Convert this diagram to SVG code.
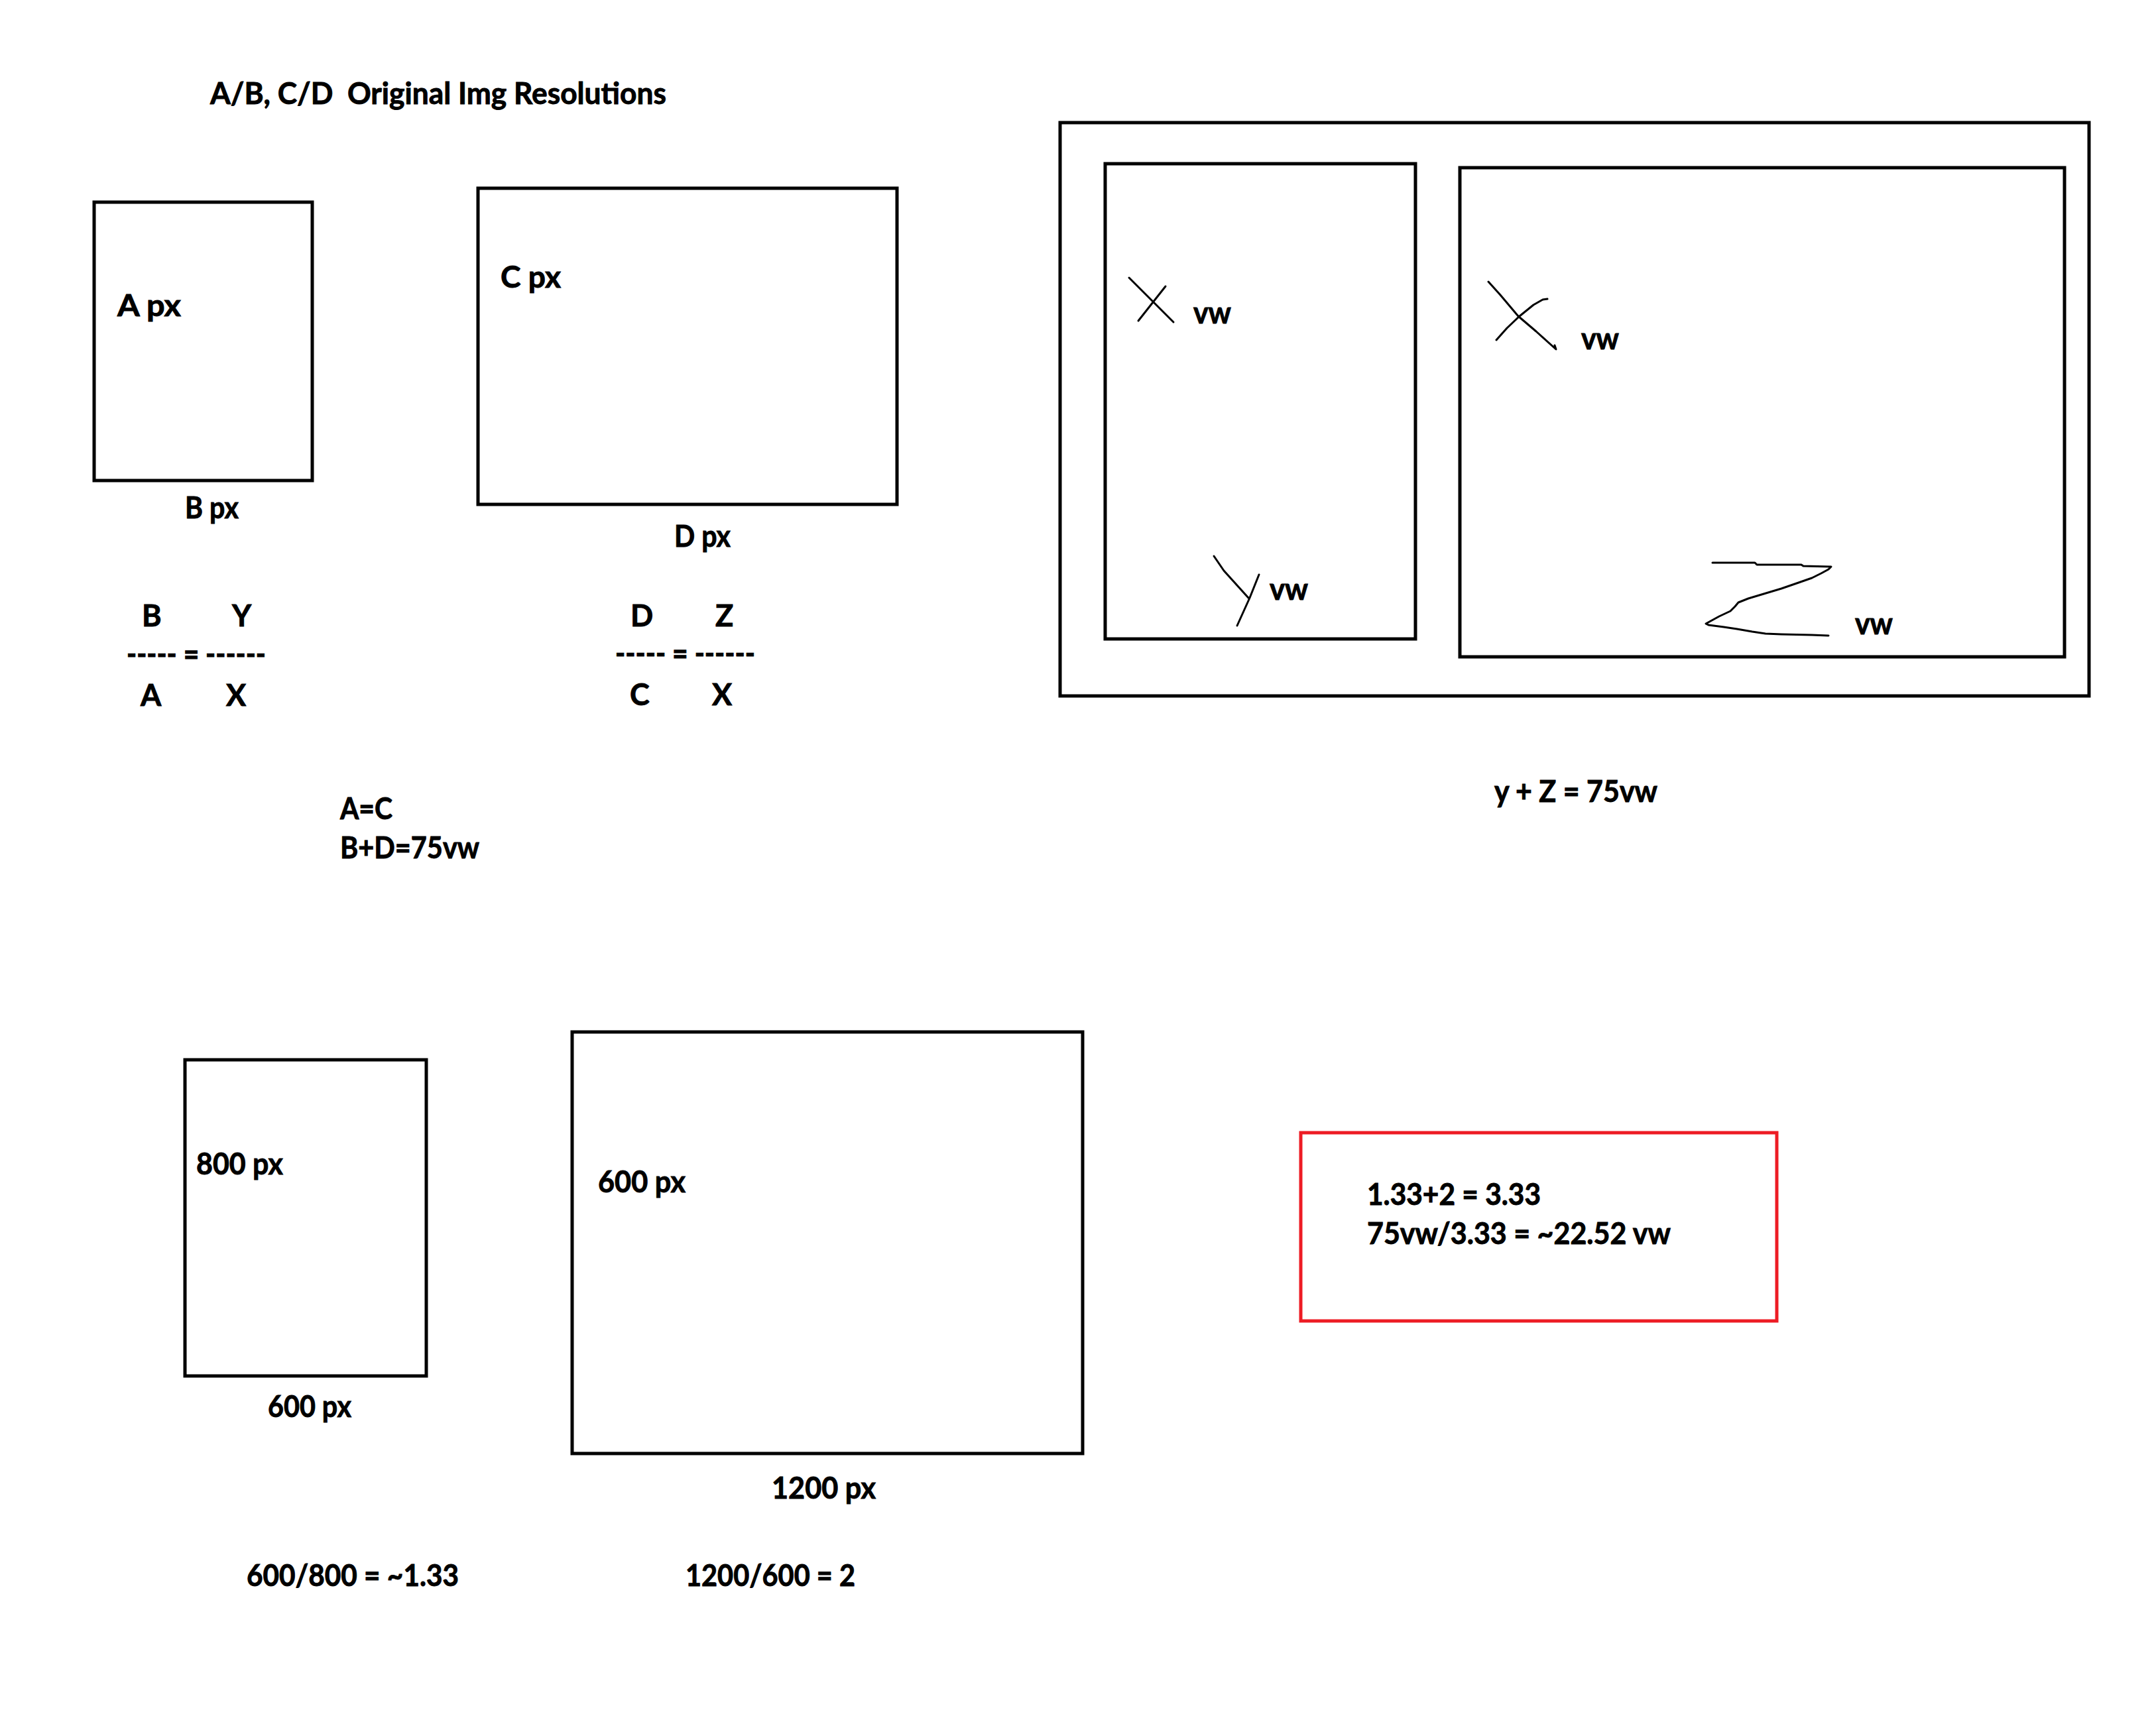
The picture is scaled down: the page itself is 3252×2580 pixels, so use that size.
<svg xmlns="http://www.w3.org/2000/svg" width="3252" height="2580" viewBox="0 0 3252 2580">
<style>
.t{font-family:Lato,"Liberation Sans",sans-serif;font-weight:bold;font-size:45px;fill:#000;stroke:#000;stroke-width:0.9}
.box{fill:none;stroke:#000;stroke-width:5}
.red{fill:none;stroke:#ED1C24;stroke-width:5}
.hand{fill:none;stroke:#000;stroke-width:3;stroke-linecap:round;stroke-linejoin:round}
</style>
<rect x="0" y="0" width="3252" height="2580" fill="#fff"/>
<g id="title">
<text class="t" x="317" y="157" textLength="688" lengthAdjust="spacingAndGlyphs" xml:space="preserve">A/B, C/D  Original Img Resolutions</text>
</g>
<g id="rect-a">
<rect class="box" x="142" y="305" width="329" height="420"/>
<text class="t" x="177" y="477" textLength="96" lengthAdjust="spacingAndGlyphs">A px</text>
<text class="t" x="279" y="782" textLength="81" lengthAdjust="spacingAndGlyphs">B px</text>
</g>
<g id="rect-c">
<rect class="box" x="721" y="284" width="632" height="477"/>
<text class="t" x="755" y="434" textLength="91" lengthAdjust="spacingAndGlyphs">C px</text>
<text class="t" x="1017" y="825" textLength="85" lengthAdjust="spacingAndGlyphs">D px</text>
</g>
<g id="ratio-left">
<text class="t" x="214" y="945">B</text>
<text class="t" x="350" y="945">Y</text>
<text class="t" x="191" y="1003" textLength="210" lengthAdjust="spacingAndGlyphs" xml:space="preserve">----- = ------</text>
<text class="t" x="212" y="1065">A</text>
<text class="t" x="341" y="1065">X</text>
</g>
<g id="ratio-right">
<text class="t" x="951" y="945">D</text>
<text class="t" x="1079" y="945">Z</text>
<text class="t" x="928" y="1002" textLength="211" lengthAdjust="spacingAndGlyphs" xml:space="preserve">----- = ------</text>
<text class="t" x="950" y="1064">C</text>
<text class="t" x="1074" y="1064">X</text>
</g>
<g id="equalities">
<text class="t" x="513" y="1236" textLength="79" lengthAdjust="spacingAndGlyphs">A=C</text>
<text class="t" x="513" y="1295" textLength="210" lengthAdjust="spacingAndGlyphs">B+D=75vw</text>
</g>
<g id="viewport">
<rect class="box" x="1599" y="185" width="1552" height="865"/>
<g id="panel-left">
<rect class="box" x="1667" y="247" width="468" height="717"/>
<path class="hand" d="M1703,419 L1770,486 M1758,432 L1717,484"/>
<text class="t" x="1800" y="488" textLength="57" lengthAdjust="spacingAndGlyphs">vw</text>
<path class="hand" d="M1831,839 L1846,861 L1883,902 M1899,867 L1885,902 L1866,944"/>
<text class="t" x="1915" y="905" textLength="58" lengthAdjust="spacingAndGlyphs">vw</text>
</g>
<g id="panel-right">
<rect class="box" x="2202" y="253" width="912" height="738"/>
<path class="hand" d="M2245,425 L2263,445 L2290,477 L2317,500 L2347,527 L2345,521 M2334,451 L2327,452 L2313,460 L2292,477 L2273,495 L2257,513"/>
<text class="t" x="2385" y="527" textLength="57" lengthAdjust="spacingAndGlyphs">vw</text>
<path class="hand" d="M2583,849 L2647,849 L2650,852 L2717,852 L2720,854 L2762,855 L2758,859 L2747,865 L2733,872 L2713,879 L2687,888 L2657,897 L2637,903 L2622,909 L2617,915 L2610,922 L2593,930 L2573,941 L2577,943 L2600,946 L2620,949 L2643,953 L2663,956 L2687,957 L2733,958 L2758,959"/>
<text class="t" x="2798" y="957" textLength="57" lengthAdjust="spacingAndGlyphs">vw</text>
</g>
</g>
<g id="sum-label">
<text class="t" x="2254" y="1210" textLength="246" lengthAdjust="spacingAndGlyphs">y + Z = 75vw</text>
</g>
<g id="rect-800">
<rect class="box" x="279" y="1599" width="364" height="477"/>
<text class="t" x="296" y="1772" textLength="131" lengthAdjust="spacingAndGlyphs">800 px</text>
<text class="t" x="404" y="2138" textLength="126" lengthAdjust="spacingAndGlyphs">600 px</text>
</g>
<g id="rect-1200">
<rect class="box" x="863" y="1557" width="770" height="636"/>
<text class="t" x="902" y="1799" textLength="132" lengthAdjust="spacingAndGlyphs">600 px</text>
<text class="t" x="1164" y="2261" textLength="157" lengthAdjust="spacingAndGlyphs">1200 px</text>
</g>
<g id="ratios-bottom">
<text class="t" x="372" y="2393" textLength="320" lengthAdjust="spacingAndGlyphs">600/800 = ~1.33</text>
<text class="t" x="1034" y="2393" textLength="256" lengthAdjust="spacingAndGlyphs">1200/600 = 2</text>
</g>
<g id="result-box">
<rect class="red" x="1962" y="1709" width="718" height="284"/>
<text class="t" x="2062" y="1818" textLength="262" lengthAdjust="spacingAndGlyphs">1.33+2 = 3.33</text>
<text class="t" x="2062" y="1877" textLength="458" lengthAdjust="spacingAndGlyphs">75vw/3.33 = ~22.52 vw</text>
</g>
<g id="connectors"></g>
</svg>
